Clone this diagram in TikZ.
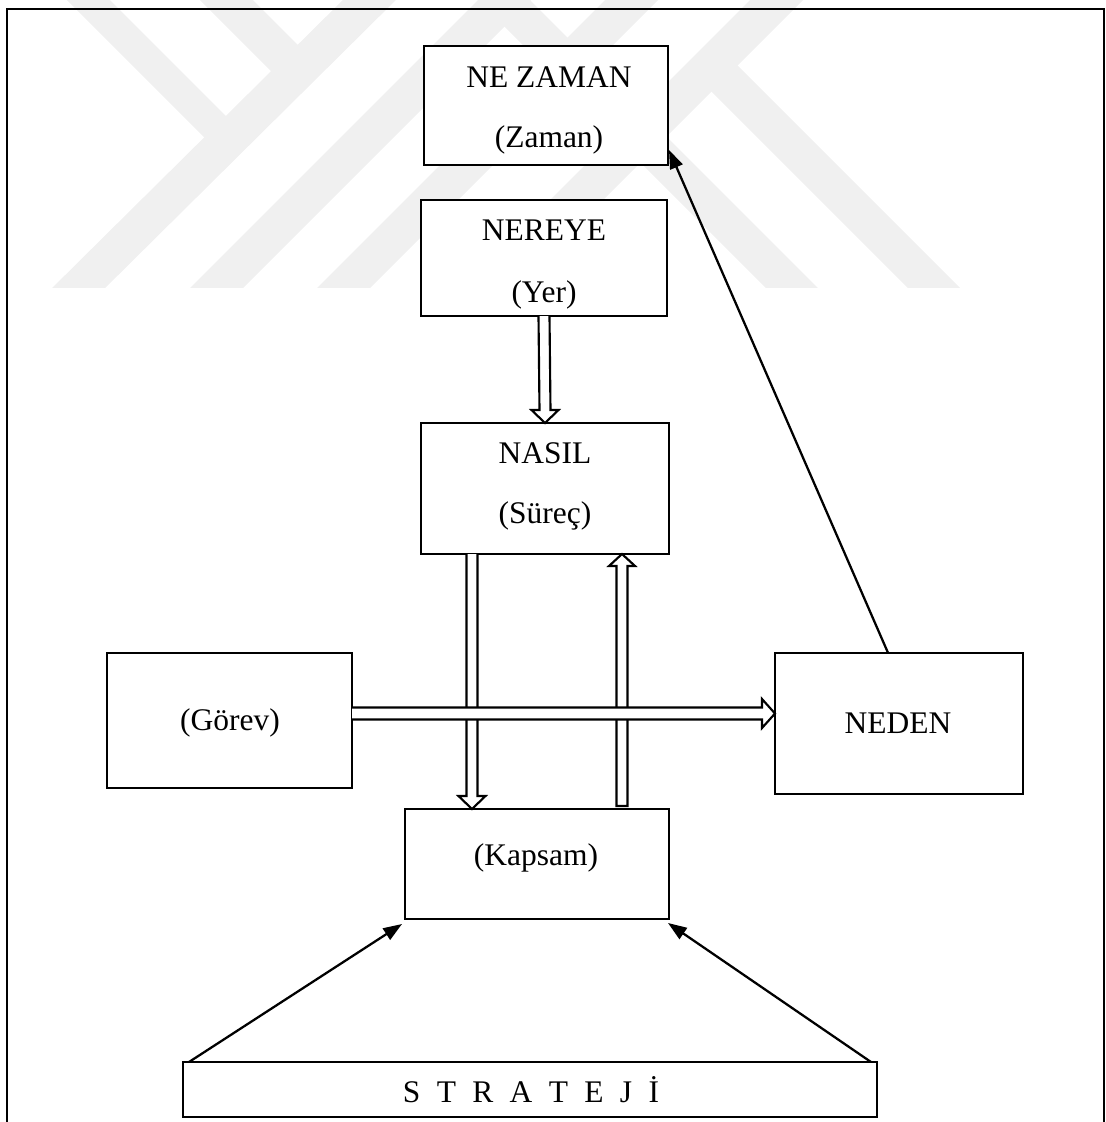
\documentclass[tikz,border=0pt]{standalone}
\usepackage{fontspec}
\setmainfont{Liberation Serif}
\usetikzlibrary{calc,arrows.meta}

% hollow block arrows: shaft half width ~6, head half width ~14, head length 13
\newcommand\blockdown[2]{%
  \draw[hollow] ($(#1)+(-5.5,0)$) -- ($(#2)+(-5.5,-13)$) -- ($(#2)+(-13.5,-13)$) -- (#2)
    -- ($(#2)+(13.5,-13)$) -- ($(#2)+(5.5,-13)$) -- ($(#1)+(5.5,0)$);}
\newcommand\blockup[2]{%
  \draw[hollow] ($(#1)+(-5.5,0)$) -- ($(#2)+(-5.5,12)$) -- ($(#2)+(-13,12)$) -- (#2)
    -- ($(#2)+(13,12)$) -- ($(#2)+(5.5,12)$) -- ($(#1)+(5.5,0)$) -- cycle;}
\newcommand\blockright[2]{%
  \draw[hollow] ($(#1)+(0,-6)$) -- ($(#2)+(-13,-6)$) -- ($(#2)+(-13,-14.5)$) -- (#2)
    -- ($(#2)+(-13,14.5)$) -- ($(#2)+(-13,6)$) -- ($(#1)+(0,6)$);}

\begin{document}
\begin{tikzpicture}[x=0.75pt,y=-0.75pt,
  box/.style={draw, line width=1.9pt, fill=white, inner sep=0pt, outer sep=0pt},
  lbl/.style={anchor=base, inner sep=0pt, font=\fontsize{23.6pt}{28pt}\selectfont},
  hollow/.style={draw, fill=white, line width=1.6pt, line join=miter},
  pointer/.style={line width=1.7pt, -{Triangle[length=14pt,width=10pt]}},
  mark band/.style={fill=black!6}]

\useasboundingbox (0,0) rectangle (1106,1122);

% faint background emblem in the upper part of the page
\begin{scope}
  \clip (0,0) rectangle (1106,287);
  \fill[mark band] (353,-10) -- (406,-10) -- (93,300) -- (40,300) -- cycle;
  \fill[mark band] (488,-10) -- (541,-10) -- (231,300) -- (178,300) -- cycle;
  \fill[mark band] (615,-10) -- (668,-10) -- (358,300) -- (305,300) -- cycle;
  \fill[mark band] (760,-10) -- (813,-10) -- (503,300) -- (450,300) -- cycle;
  \fill[mark band] (57,-10) -- (100,-10) -- (226.5,116.5) -- (205,138) -- cycle;
  \fill[mark band] (190,-10) -- (243,-10) -- (306.5,53.5) -- (280,80) -- cycle;
  \fill[mark band] (705,85) -- (731,59) -- (972,300) -- (920,300) -- cycle;
  \fill[mark band] (468,-10) -- (520,-10) -- (830,300) -- (778,300) -- cycle;
\end{scope}

% outer frame, open at the bottom
\draw[line width=2.1pt] (7,1130) -- (7,9) -- (1104,9) -- (1104,1130);

% boxes
\node[box, minimum width=183pt,   minimum height=89.25pt]  (nez) at (546,105.5) {};
\node[box, minimum width=184.5pt, minimum height=87pt]     (ner) at (544,258) {};
\node[box, minimum width=186pt,   minimum height=98.25pt]  (nas) at (545,488.5) {};
\node[box, minimum width=183.75pt,minimum height=101.25pt] (gor) at (229.5,720.5) {};
\node[box, minimum width=186pt,   minimum height=105.75pt] (ned) at (899,723.5) {};
\node[box, minimum width=198pt,   minimum height=82.5pt]   (kap) at (537,864) {};
\node[box, minimum width=520.5pt, minimum height=41.25pt]  (str) at (530,1089.5) {};

% labels
\node[lbl] (nezA) at (549,87)  {NE ZAMAN};
\node[lbl] (nezB) at (549,147) {(Zaman)};
\node[lbl] (nerA) at (544,240) {NEREYE};
\node[lbl] (nerB) at (544,302) {(Yer)};
\node[lbl] (nasA) at (545,463) {NASIL};
\node[lbl] (nasB) at (545,523) {(Süreç)};
\node[lbl] (gorA) at (230,730) {(Görev)};
\node[lbl] (nedA) at (898,733) {NEDEN};
\node[lbl] (kapA) at (536,865) {(Kapsam)};
\node[lbl] (strA) at (531,1102) {\spaceskip=0.52em S T R A T E J İ};

% anchor points of the block arrows
\coordinate (d1) at ($(nas.south west)!0.2056!(nas.south east)$);
\coordinate (d2) at (d1 |- kap.north);
\coordinate (u1) at ($(nas.south west)!0.8105!(nas.south east)$);
\coordinate (u0) at ($(u1 |- kap.north)+(0,-3)$);
\coordinate (h0) at ($(gor.east)+(0,-7)$);
\coordinate (h1) at (h0 -| ned.west);

% block arrows (the horizontal one lies on top)
\blockdown{ner.south}{nas.north}
\blockdown{d1}{d2}
\blockup{u0}{u1}
\blockright{h0}{h1}

% plain arrows
\coordinate (w0) at ($(ned.north west)!0.456!(ned.north east)$);
\coordinate (w1) at ($(nez.south east)+(1,-15)$);
\draw[pointer] (w0) -- (w1);
\coordinate (s0) at ($(str.north west)+(6,0)$);
\coordinate (s1) at ($(kap.south west)+(-3,5)$);
\draw[pointer] (s0) -- (s1);
\coordinate (t0) at ($(str.north east)+(-6,0)$);
\coordinate (t1) at ($(kap.south east)+(-1,4)$);
\draw[pointer] (t0) -- (t1);
\end{tikzpicture}
\end{document}
